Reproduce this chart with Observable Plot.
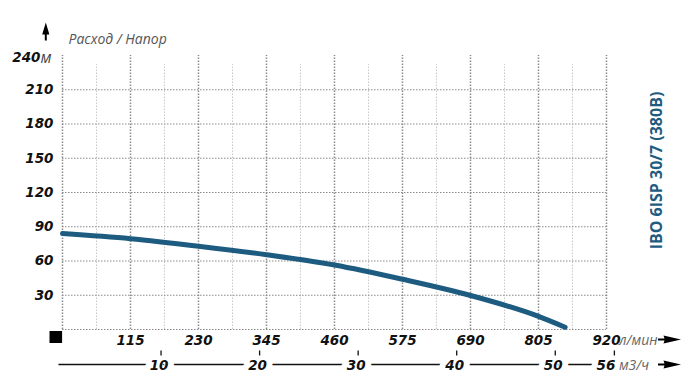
<!DOCTYPE html>
<html>
<head>
<meta charset="utf-8">
<script src="https://cdn.jsdelivr.net/npm/d3@7"></script>
<script src="https://cdn.jsdelivr.net/npm/@observablehq/plot@0.6"></script>
<style>
  html, body { margin: 0; padding: 0; background: #fff; overflow: hidden; }
</style>
</head>
<body>
<div id="chart"></div>
<script>
// ---- data ----
const flowLmin = [0, 115, 230, 345, 460, 575, 690, 805, 850];
const headM    = [84, 79.5, 73, 65.5, 56.5, 44, 29.8, 11.5, 2];
const xTicks   = [115, 230, 345, 460, 575, 690, 805, 920];
const xGridMajor = [0, 115, 230, 345, 460, 575, 690, 805, 920];
const xGridMinor = [57.5, 172.5, 287.5, 402.5, 517.5, 632.5, 747.5, 862.5];
const yTicks   = [30, 60, 90, 120, 150, 180, 210];
const yGrid    = [0, 30, 60, 90, 120, 150, 180, 210];
const yTop     = 240;
const m3hTicks = [10, 20, 30, 40, 50];
const m3hLast  = 56;
const title    = "IBO 6ISP 30/7 (380B)";
const axisTitle = "Расход / Напор";
const xUnit    = "л/мин";
const m3Unit   = "м3/ч";
const yUnit    = "м";

const curve = flowLmin.map((x, i) => ({x, y: headM[i]}));
const toLmin = v => v * 1000 / 60;

const BLUE = "#1d5b80";
const numFont = {fontFamily: "DejaVu Sans", fontWeight: "bold", fontStyle: "italic", fontSize: 13.5, fill: "#111"};
const unitFont = {fontFamily: "Open Sans", fontStyle: "italic", fontSize: 14, fill: "#666"};

// custom symbols
const upArrow = {draw(ctx) {
  ctx.moveTo(0, -9); ctx.lineTo(3.6, 3); ctx.lineTo(1, 3); ctx.lineTo(1, 9);
  ctx.lineTo(-1, 9); ctx.lineTo(-1, 3); ctx.lineTo(-3.6, 3); ctx.closePath();
}};
const rightArrow = {draw(ctx) {
  ctx.moveTo(-11.5, -1); ctx.lineTo(-5, -1); ctx.lineTo(-6, -4); ctx.lineTo(11.5, 0);
  ctx.lineTo(-6, 4); ctx.lineTo(-5, 1); ctx.lineTo(-11.5, 1); ctx.closePath();
}};
const square = {draw(ctx) { ctx.rect(-6.3, -6, 12.6, 12); }};

const chart = Plot.plot({
  width: 700,
  height: 383,
  marginLeft: 62,
  marginRight: 94,
  marginTop: 55,
  marginBottom: 54,
  x: {domain: [0, 920], axis: null},
  y: {domain: [0, 240], axis: null},
  style: {background: "#fff", overflow: "visible"},
  marks: [
    // grid
    Plot.ruleX(xGridMinor, {y1: 0, y2: 232, stroke: "#c8c8c8", strokeWidth: 1, strokeDasharray: "1.5,1.5"}),
    Plot.ruleY(yGrid, {x1: 0, x2: 920, stroke: "#8a8a8a", strokeWidth: 1.2, strokeDasharray: "1.5,1.5"}),
    Plot.ruleX(xGridMajor, {y1: 0, y2: 240, stroke: "#8a8a8a", strokeWidth: 1.5, strokeDasharray: "1.5,1.5"}),
    // curve
    Plot.line(curve, {x: "x", y: "y", stroke: BLUE, strokeWidth: 5, curve: "monotone-x"}),
    // y labels
    Plot.text(yTicks, {y: d => d, frameAnchor: "left", dx: -9, textAnchor: "end", ...numFont}),
    Plot.text([yTop], {y: d => d, frameAnchor: "left", dx: -22, dy: 2, textAnchor: "end", ...numFont}),
    Plot.text([yUnit], {y: () => yTop, frameAnchor: "left", dx: -22, dy: 2.5, textAnchor: "start", text: d => d, ...unitFont, fontSize: 16, fill: "#444"}),
    // axis title
    Plot.text([axisTitle], {frameAnchor: "top-left", lineAnchor: "middle", dx: 6, dy: -15.5, textAnchor: "start", text: d => d, ...unitFont, fontSize: 14, fill: "#555"}),
    // x labels (l/min)
    Plot.text(xTicks, {x: d => d, frameAnchor: "bottom", lineAnchor: "middle", dy: 10.8, ...numFont}),
    Plot.text([xUnit], {x: () => 920, frameAnchor: "bottom", lineAnchor: "middle", dx: 12.5, dy: 11, textAnchor: "start", text: d => d, ...unitFont}),
    // secondary axis (m3/h)
    Plot.ruleY([0], {x1: -6, x2: toLmin(m3hLast), dy: 35, stroke: "#111", strokeWidth: 1.3}),
    Plot.text(m3hTicks, {x: d => toLmin(d), frameAnchor: "bottom", lineAnchor: "middle", dx: -2, dy: 35.7, stroke: "#fff", strokeWidth: 12, ...numFont}),
    Plot.text([m3hLast], {x: d => toLmin(d), frameAnchor: "bottom", lineAnchor: "middle", dx: -8.5, dy: 35.7, stroke: "#fff", strokeWidth: 12, ...numFont}),
    Plot.text([m3Unit], {x: () => toLmin(m3hLast), frameAnchor: "bottom", lineAnchor: "middle", dx: 4.5, dy: 36, textAnchor: "start", text: d => d, stroke: "#fff", strokeWidth: 8, ...unitFont}),
    Plot.ruleX([...m3hTicks, m3hLast], {x: d => toLmin(d), y1: -18.8, y2: -23.2, stroke: "#111", strokeWidth: 1.3}),
    // decorations
    Plot.dot([0], {x: 0, y: 0, symbol: square, dx: -6.7, dy: 7.5, fill: "#000", stroke: null}),
    Plot.dot([0], {x: 0, y: yTop, symbol: upArrow, dx: -16.7, dy: -24, fill: "#000", stroke: null}),
    Plot.dot([0], {x: 920, y: 0, symbol: rightArrow, dx: 63, dy: 10, fill: "#000", stroke: null}),
    Plot.dot([0], {x: 920, y: 0, symbol: rightArrow, dx: 63, dy: 35, fill: "#000", stroke: null}),
    // vertical title
    Plot.text([title], {frameAnchor: "right", rotate: -90, dx: 50, dy: -22, textAnchor: "middle", text: d => d,
      fontFamily: "Open Sans", fontWeight: "bold", fontSize: 16, fill: BLUE})
  ]
});
document.getElementById("chart").appendChild(chart);
</script>
</body>
</html>
